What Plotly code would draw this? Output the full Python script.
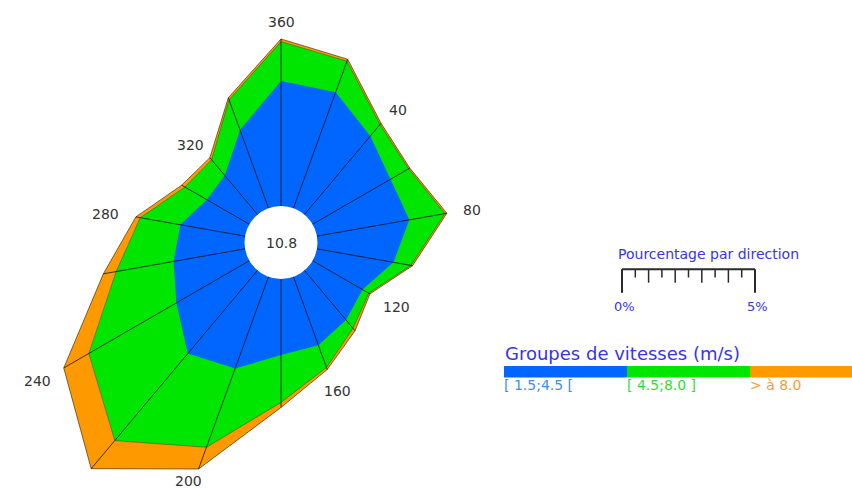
import numpy as np
import plotly.graph_objects as go

# Wind rose data: share of observations (%) per direction sector and speed class
directions = [0, 20, 40, 60, 80, 100, 120, 140, 160, 180, 200, 220, 240, 260, 280, 300, 320, 340]
pct_low = [4.70, 4.64, 3.85, 3.37, 3.53, 2.92, 2.17, 2.43, 2.74, 2.86, 3.67, 4.08, 3.17, 2.73, 2.47, 1.85, 1.92, 3.13]
pct_mid = [1.48, 1.24, 0.57, 0.80, 1.36, 0.67, 0.27, 0.41, 0.89, 1.78, 3.15, 4.27, 3.80, 2.19, 1.53, 0.95, 0.77, 1.21]
pct_high = [0.10, 0.08, 0.06, 0.05, 0.07, 0.06, 0.05, 0.12, 0.08, 0.19, 0.87, 1.38, 1.09, 0.49, 0.17, 0.14, 0.10, 0.08]
calm_pct = 10.8

label_directions = [0, 40, 80, 120, 160, 200, 240, 280, 320]
label_texts = ["360", "40", "80", "120", "160", "200", "240", "280", "320"]

speed_classes = ["[ 1.5;4.5 [", "[ 4.5;8.0 ]", "> à 8.0"]
class_colors = ["#0066ff", "#00e600", "#ff9900"]
class_text_colors = ["#3b8cff", "#2ee02e", "#ff9a33"]
scale_max_pct = 5

# Page geometry (pixels) and radial scale
W, H = 852, 489
CX, CY = 281.0, 242.5
PX_PER_PCT = 26.6
HOLE = 36.5 / PX_PER_PCT  # radius of the calm circle, in % units


def px_to_x(px):
    return (px - CX) / PX_PER_PCT


def py_to_y(py):
    return (CY - py) / PX_PER_PCT


theta = np.deg2rad(np.array(directions, dtype=float))
cum_low = np.array(pct_low)
cum_mid = cum_low + np.array(pct_mid)
cum_high = cum_mid + np.array(pct_high)


def ring(cum):
    r = HOLE + cum
    x = r * np.sin(theta)
    y = r * np.cos(theta)
    return np.append(x, x[0]), np.append(y, y[0])


fig = go.Figure()

# Stacked layers, outermost first
for cum, color, outline in [
    (cum_high, class_colors[2], "rgba(0,0,0,0.75)"),
    (cum_mid, class_colors[1], "rgba(0,0,0,0.45)"),
    (cum_low, class_colors[0], "rgba(0,0,0,0)"),
]:
    x, y = ring(cum)
    fig.add_trace(go.Scatter(
        x=x, y=y, mode="lines", fill="toself", fillcolor=color,
        line=dict(color=outline, width=0.7), hoverinfo="skip", showlegend=False,
    ))

# Sector spokes from the calm circle to the outer edge
sx, sy = [], []
for t, tot in zip(theta, cum_high):
    sx += [HOLE * np.sin(t), (HOLE + tot) * np.sin(t), None]
    sy += [HOLE * np.cos(t), (HOLE + tot) * np.cos(t), None]
fig.add_trace(go.Scatter(x=sx, y=sy, mode="lines", line=dict(color="#111", width=0.8),
                         hoverinfo="skip", showlegend=False))

shapes = [dict(type="circle", xref="x", yref="y", x0=-HOLE, x1=HOLE, y0=-HOLE, y1=HOLE,
               fillcolor="white", line=dict(width=0), layer="above")]
annotations = [dict(x=0, y=0, xref="x", yref="y", text=f"{calm_pct}", showarrow=False,
                    font=dict(family="DejaVu Sans", size=14, color="#333"))]

# Direction labels just outside each labelled vertex
for d, txt in zip(label_directions, label_texts):
    i = directions.index(d)
    t = np.deg2rad(d)
    r = HOLE + cum_high[i]
    half_w = 4.5 * len(txt)
    xshift = (17 + half_w) * np.sin(t)
    yshift = 17 * np.cos(t) - (5 if np.cos(t) < -0.2 else 0)
    # keep the label box on the page
    py = CY - r * np.cos(t) * PX_PER_PCT - yshift
    if py > H - 8:
        yshift += py - (H - 8)
    annotations.append(dict(
        x=r * np.sin(t), y=r * np.cos(t), xref="x", yref="y", text=txt, showarrow=False,
        xanchor="center", yanchor="middle", xshift=xshift, yshift=yshift,
        font=dict(family="DejaVu Sans", size=14, color="#333"),
    ))

# Percentage scale bar (drawn in the same % units as the rose)
bar_x0 = px_to_x(622)
bar_y = py_to_y(269.3)
tick_color = "#2a2a2a"
shapes.append(dict(type="line", xref="x", yref="y", x0=bar_x0, x1=bar_x0 + scale_max_pct,
                   y0=bar_y, y1=bar_y, line=dict(color=tick_color, width=2)))
for k in range(2 * scale_max_pct + 1):
    v = k / 2
    if k == 0 or k == 2 * scale_max_pct:
        y_end, w = py_to_y(292.7), 2
    elif k % 2 == 0:
        y_end, w = py_to_y(282.7), 1.5
    else:
        y_end, w = py_to_y(277.5), 1.5
    shapes.append(dict(type="line", xref="x", yref="y", x0=bar_x0 + v, x1=bar_x0 + v,
                       y0=bar_y, y1=y_end, line=dict(color=tick_color, width=w)))

scale_blue = "#3535ee"
annotations.append(dict(x=px_to_x(615.5), y=py_to_y(254), xref="x", yref="y",
                        text="Pourcentage par direction", showarrow=False,
                        xanchor="left", yanchor="middle",
                        font=dict(family="DejaVu Sans", size=14, color=scale_blue)))
for v, txt in [(0, "0%"), (scale_max_pct, "5%")]:
    annotations.append(dict(x=bar_x0 + v, y=py_to_y(306.5), xref="x", yref="y", text=txt,
                            showarrow=False, xanchor="center", yanchor="middle", xshift=2.5,
                            font=dict(family="DejaVu Sans", size=13, color=scale_blue)))

# Speed-class legend
annotations.append(dict(x=503 / W, y=1 - 353 / H, xref="paper", yref="paper",
                        text="Groupes de vitesses (m/s)", showarrow=False,
                        xanchor="left", yanchor="middle",
                        font=dict(family="DejaVu Sans", size=18, color=scale_blue)))
seg_edges = [504, 627, 750, 852]
for i, (name, col, tcol) in enumerate(zip(speed_classes, class_colors, class_text_colors)):
    shapes.append(dict(type="rect", xref="paper", yref="paper",
                       x0=seg_edges[i] / W, x1=seg_edges[i + 1] / W,
                       y0=1 - 377.5 / H, y1=1 - 366 / H, fillcolor=col, line=dict(width=0)))
    annotations.append(dict(x=(seg_edges[i] - 2) / W, y=1 - 384.5 / H, xref="paper", yref="paper",
                            text=name, showarrow=False, xanchor="left", yanchor="middle",
                            font=dict(family="DejaVu Sans", size=14, color=tcol)))

fig.update_layout(
    width=W, height=H, margin=dict(l=0, r=0, t=0, b=0),
    paper_bgcolor="white", plot_bgcolor="white",
    xaxis=dict(range=[px_to_x(0), px_to_x(W)], visible=False, fixedrange=True),
    yaxis=dict(range=[py_to_y(H), py_to_y(0)], visible=False, fixedrange=True),
    shapes=shapes, annotations=annotations, showlegend=False,
)

fig.write_html("out.html")
